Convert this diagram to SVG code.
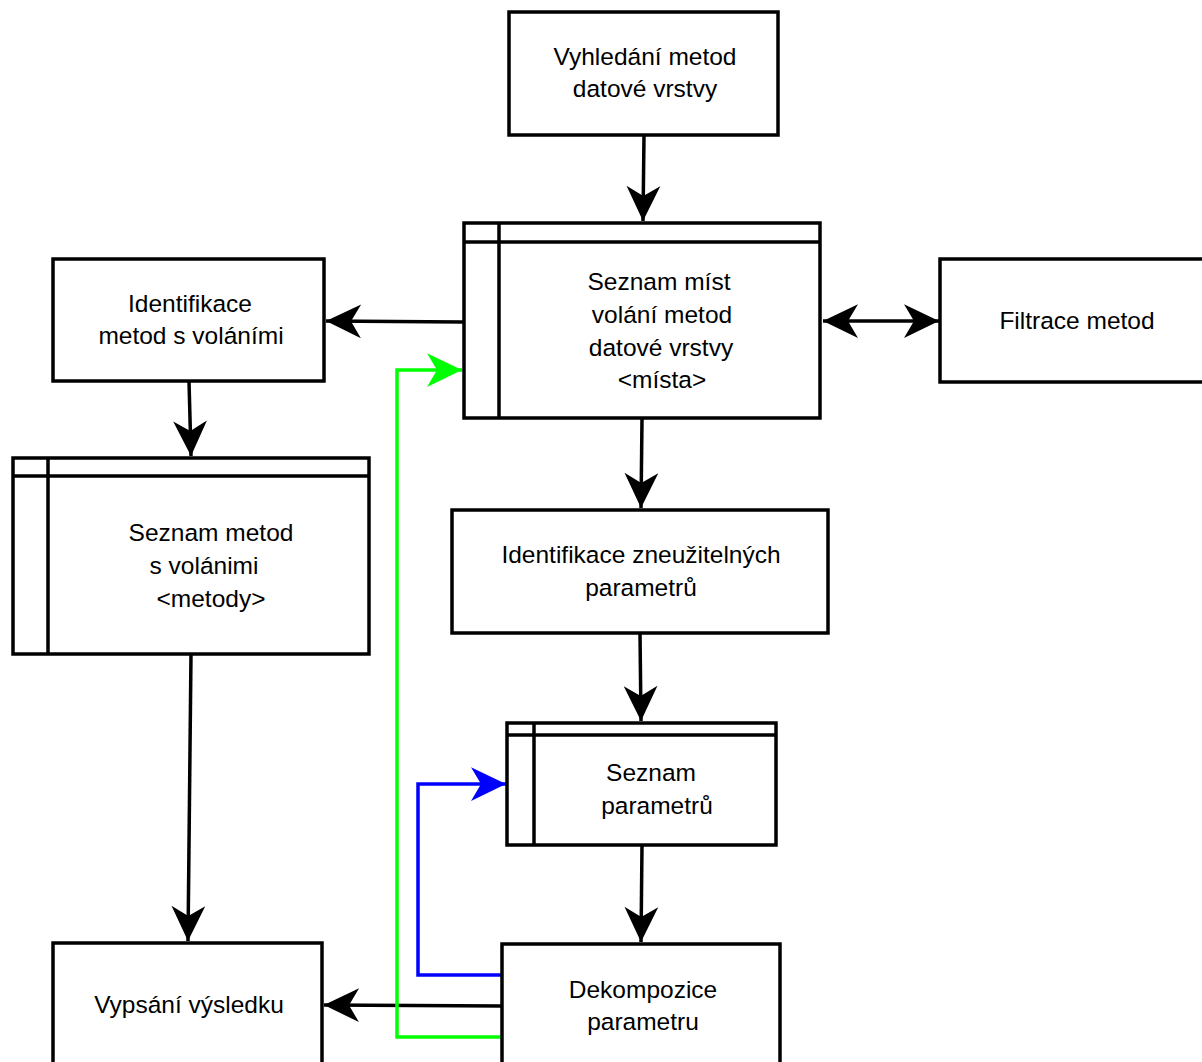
<svg xmlns="http://www.w3.org/2000/svg" width="1202" height="1062" viewBox="0 0 1202 1062">
<style>
.box{fill:#fff;stroke:#000;stroke-width:3.5}
.ln{fill:none;stroke:#000;stroke-width:3.5}
.t{font-family:"Liberation Sans",Arial,sans-serif;font-size:24.5px;fill:#000;text-anchor:middle}
.c{fill:none;stroke-width:3.5}
</style>
<defs>
<marker id="ab" markerUnits="userSpaceOnUse" markerWidth="40" markerHeight="40" viewBox="-30 -15 32 30" refX="0" refY="0" orient="auto-start-reverse">
<path d="M0,0 L-28,-13.5 L-20,0 L-28,13.5 Z" fill="#000"/>
</marker>
<marker id="abl" markerUnits="userSpaceOnUse" markerWidth="40" markerHeight="40" viewBox="-30 -15 32 30" refX="0" refY="0" orient="auto">
<path d="M0,0 L-28,-13.5 L-20,0 L-28,13.5 Z" fill="#0000ff"/>
</marker>
<marker id="ag" markerUnits="userSpaceOnUse" markerWidth="40" markerHeight="40" viewBox="-30 -15 32 30" refX="0" refY="0" orient="auto">
<path d="M0,0 L-28,-13.5 L-20,0 L-28,13.5 Z" fill="#00ff00"/>
</marker>
</defs>
<rect width="1202" height="1062" fill="#fff"/>

<g id="connectors">
<path class="c" stroke="#000" d="M644,135 L643,221" marker-end="url(#ab)"/>
<path class="c" stroke="#000" d="M463,322 L326,321" marker-end="url(#ab)"/>
<path class="c" stroke="#000" d="M823,321 L939,321" marker-start="url(#ab)" marker-end="url(#ab)"/>
<path class="c" stroke="#000" d="M189,381 L191,456" marker-end="url(#ab)"/>
<path class="c" stroke="#000" d="M642,419 L641,508" marker-end="url(#ab)"/>
<path class="c" stroke="#000" d="M640,633 L641,721" marker-end="url(#ab)"/>
<path class="c" stroke="#000" d="M642,845 L641,942" marker-end="url(#ab)"/>
<path class="c" stroke="#000" d="M191,654 L188,941" marker-end="url(#ab)"/>
<path class="c" stroke="#000" d="M502,1006 L324,1005" marker-end="url(#ab)"/>
<path class="c" stroke="#0000ff" d="M502,975 L418,975 L418,784 L506,784" marker-end="url(#abl)"/>
<path class="c" stroke="#00ff00" d="M502,1037 L397,1037 L397,370 L462,370" marker-end="url(#ag)"/>
</g>

<g id="n1">
<rect class="box" x="509" y="12" width="269" height="123"/>
<text class="t" x="645" y="65">Vyhledání metod</text>
<text class="t" x="645" y="97">datové vrstvy</text>
</g>

<g id="n2">
<rect class="box" x="464" y="223" width="356" height="195"/>
<line class="ln" x1="464" y1="242" x2="820" y2="242"/>
<line class="ln" x1="499" y1="223" x2="499" y2="418"/>
<text class="t" x="659" y="290">Seznam míst</text>
<text class="t" x="662" y="323">volání metod</text>
<text class="t" x="661" y="356">datové vrstvy</text>
<text class="t" x="662" y="388">&lt;místa&gt;</text>
</g>

<g id="n3">
<rect class="box" x="53" y="259" width="271" height="122"/>
<text class="t" x="190" y="312">Identifikace</text>
<text class="t" x="191" y="344">metod s voláními</text>
</g>

<g id="n4">
<rect class="box" x="940" y="259" width="280" height="123"/>
<text class="t" x="1077" y="329">Filtrace metod</text>
</g>

<g id="n5">
<rect class="box" x="13" y="458" width="356" height="196"/>
<line class="ln" x1="13" y1="476" x2="369" y2="476"/>
<line class="ln" x1="48" y1="458" x2="48" y2="654"/>
<text class="t" x="211" y="541">Seznam metod</text>
<text class="t" x="204" y="574">s volánimi</text>
<text class="t" x="211" y="607">&lt;metody&gt;</text>
</g>

<g id="n6">
<rect class="box" x="452" y="510" width="376" height="123"/>
<text class="t" x="641" y="563">Identifikace zneužitelných</text>
<text class="t" x="641" y="596">parametrů</text>
</g>

<g id="n7">
<rect class="box" x="507" y="723" width="269" height="122"/>
<line class="ln" x1="507" y1="735" x2="776" y2="735"/>
<line class="ln" x1="534" y1="723" x2="534" y2="845"/>
<text class="t" x="651" y="781">Seznam</text>
<text class="t" x="657" y="814">parametrů</text>
</g>

<g id="n8">
<rect class="box" x="502" y="944" width="278" height="130"/>
<text class="t" x="643" y="998">Dekompozice</text>
<text class="t" x="643" y="1030">parametru</text>
</g>

<g id="n9">
<rect class="box" x="53" y="943" width="269" height="130"/>
<text class="t" x="189" y="1013">Vypsání výsledku</text>
</g>
</svg>
